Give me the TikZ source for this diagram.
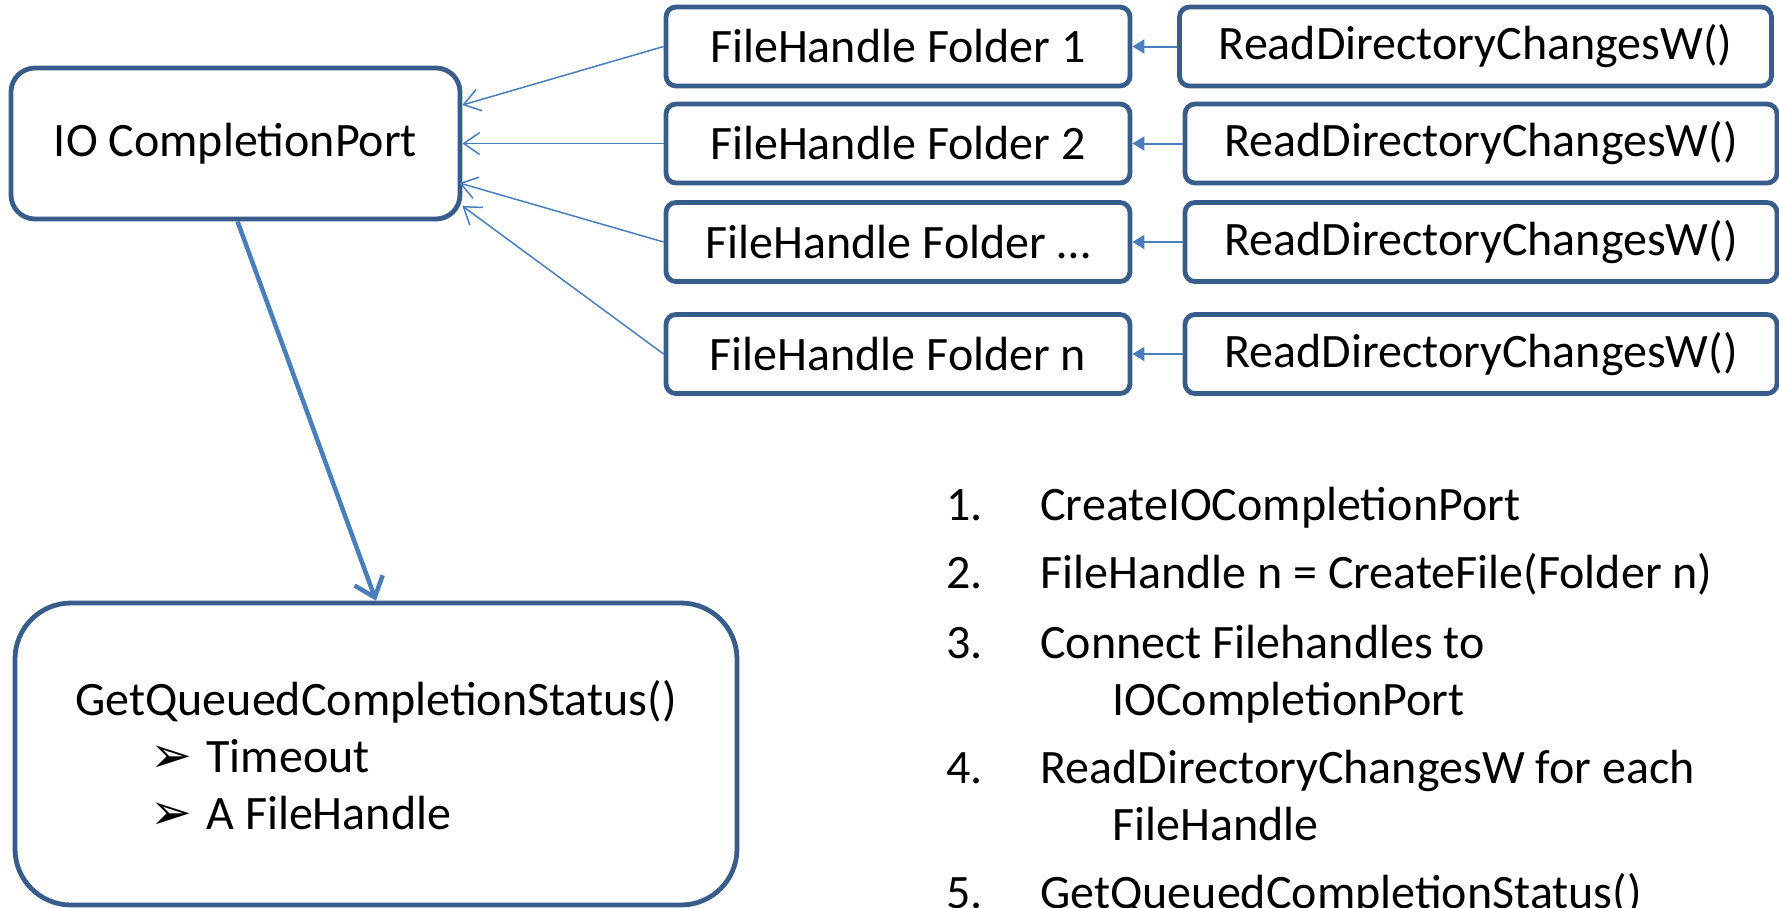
\documentclass[tikz,border=0pt]{standalone}
\usepackage{fontspec}
\setmainfont{Carlito}
\newfontfamily\dingfont{DejaVu Sans}
\usetikzlibrary{arrows.meta}
\definecolor{rahmen}{RGB}{56,93,138}
\definecolor{pfeil}{RGB}{74,126,187}

\begin{document}
\begin{tikzpicture}[
        x=0.5pt, y=-0.5pt, % 1 единица = 1 пиксель, ось y вниз
        font=\fontsize{24}{28}\selectfont,
        box/.style={draw=rahmen, line width=2.4pt, fill=white, rounded corners=5pt, inner sep=0pt, align=center}, % Стиль блоков
        link/.style={draw=pfeil, line width=0.75pt, -{Straight Barb[length=8pt, width=11pt]}},
        call/.style={draw=pfeil, line width=1pt, -{Triangle[length=6pt, width=7pt]}},
        item/.style={anchor=base west, inner sep=0pt},
        bullet/.style={anchor=base west, inner sep=0pt, font=\dingfont\fontsize{25}{28}\selectfont},
    ]
    \clip (0,0) rectangle (1779,907);

    \node[box, minimum width=224.5pt, minimum height=75.5pt, rounded corners=12pt] (io) at (235.5,143.5) {IO CompletionPort};

    % Папки и вызовы ReadDirectoryChangesW
    \foreach \y/\t/\n/\rx in {46.5/1/1/1475.5, 143.5/2/2/1481, 242/…/3/1481, 354/n/4/1481} {
        \node[box, minimum width=232pt, minimum height=39.5pt] (f\n) at (898,\y) {FileHandle Folder \t};
        \node[box, minimum width=296pt, minimum height=39.5pt] (r\n) at (\rx,\y) {ReadDirectoryChangesW()};
        \draw[call] (r\n) -- (f\n);
    }

    \draw[link] (f1.west) -- ([yshift=19.25pt]io.east);
    \draw[link] (f2.west) -- (io.east);
    \draw[link] (f3.west) -- ([xshift=-1.5pt, yshift=-19.75pt]io.east);
    \draw[link] (f4.west) -- ([yshift=-31.25pt]io.east);

    \node[box, minimum width=361pt, minimum height=151pt, rounded corners=28pt] (get) at (376,754) {};
    \draw[pfeil, line width=2.25pt, -{Straight Barb[length=9pt, width=15pt]}] ([xshift=1pt]io.south) -- (get.north);

    \node[item] (gq) at (75,715) {GetQueuedCompletionStatus()};
    \node[bullet] (b1) at (150,772) {➢};
    \node[item] (timeout) at (206,772) {Timeout};
    \node[bullet] (b2) at (150,829) {➢};
    \node[item] (handle) at (206,829) {A FileHandle};

    % Schritte
    \foreach \y/\nr in {520/1., 588/2., 658/3., 783/4., 908/5.}
        \node[item] (nr\nr) at (946,\y) {\nr};
    \node[item] (s1) at (1040,520) {CreateIOCompletionPort};
    \node[item] (s2) at (1040,588) {FileHandle n = CreateFile(Folder n)};
    \node[item] (s3) at (1040,658) {Connect Filehandles to};
    \node[item] (s3b) at (1112,715) {IOCompletionPort};
    \node[item] (s4) at (1040,783) {ReadDirectoryChangesW for each};
    \node[item] (s4b) at (1112,840) {FileHandle};
    \node[item] (s5) at (1040,908) {GetQueuedCompletionStatus()};
\end{tikzpicture}
\end{document}
